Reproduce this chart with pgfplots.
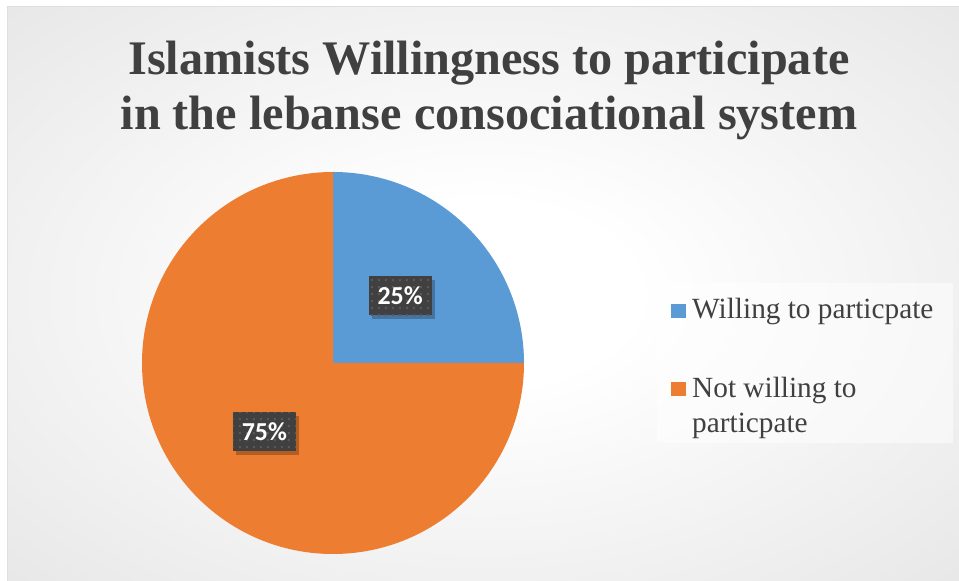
\documentclass[border=0pt]{standalone}
\usepackage{pgfplots}
\pgfplotsset{compat=1.18}
\usepackage{pgfplotstable}
\usepackage{fontspec}
\setmainfont{Liberation Serif}
\newfontfamily\labelfont{Carlito}
\usetikzlibrary{patterns.meta,shadows}

\definecolor{pieblue}{RGB}{91,155,213}
\definecolor{pieorange}{RGB}{237,125,49}
\definecolor{textgray}{RGB}{64,64,64}
\definecolor{labelbg}{RGB}{64,64,64}
\definecolor{labeldot}{RGB}{88,88,88}

\pgfdeclareradialshading{chartbg}{\pgfpoint{0bp}{0bp}}{%
  color(0bp)=(white); color(8bp)=(white); color(71bp)=(gray!42)}

\tikzdeclarepattern{
  name=labeldots, type=uncolored,
  bottom left={(0bp,0bp)}, top right={(6.6bp,6.6bp)},
  tile size={(6.6bp,6.6bp)},
  code={\fill (1bp,1bp) rectangle (3bp,3bp);}
}

% share of each answer, in percent
\pgfplotstableread{
answer value
willing 25
notwilling 75
}\piedata
\pgfplotstablegetelem{0}{value}\of\piedata \let\valA\pgfplotsretval
\pgfplotstablegetelem{1}{value}\of\piedata \let\valB\pgfplotsretval
\pgfmathsetmacro{\aStart}{90}
\pgfmathsetmacro{\aEnd}{\aStart-3.6*\valA}
\pgfmathsetmacro{\bEnd}{\aEnd-3.6*\valB}
\pgfmathsetmacro{\aMid}{(\aStart+\aEnd)/2}
\pgfmathsetmacro{\bMid}{(\aEnd+\bEnd)/2}
\pgfmathtruncatemacro{\pctA}{\valA}
\pgfmathtruncatemacro{\pctB}{\valB}

\tikzset{
  pielabel/.style={fill=labelbg, text=white, minimum width=63bp, minimum height=39bp,
    inner sep=0pt, font=\labelfont\bfseries\fontsize{26}{30}\selectfont,
    postaction={pattern={labeldots}, pattern color=labeldot},
    drop shadow={shadow xshift=3bp, shadow yshift=-4bp, opacity=0.25, fill=black}}
}

\begin{document}
\begin{tikzpicture}[x=1bp,y=1bp]
  \path[use as bounding box] (0,0) rectangle (959,581);
  \shade[shading=chartbg] (7,0) rectangle (959,574);
  \draw[gray!25, line width=1bp] (7,0) -- (7,574) -- (959,574);
  \begin{axis}[
    x=1bp, y=1bp, at={(0,0)}, anchor=origin,
    xmin=0, xmax=959, ymin=0, ymax=581,
    hide axis, clip=false,
    legend style={at={(axis cs:671,283)}, anchor=north west,
      draw=none, fill=none, inner sep=0pt,
      cells={anchor=base west}, nodes={inner sep=0pt, text depth=},
      column sep=6bp, row sep=48bp,
      font=\fontsize{29.4}{35}\selectfont, text=textgray},
    legend image code/.code={\fill[#1, draw=none] (0bp,1bp) rectangle (15bp,15bp);},
  ]
    % legend panel
    \fill[white, opacity=0.5] (axis cs:657,138) rectangle (axis cs:953,298);

    % slices
    \fill[pieblue] (axis cs:333,218) -- ++(\aStart:191)
      arc[start angle=\aStart, end angle=\aEnd, radius=191] -- cycle;
    \fill[pieorange] (axis cs:333,218) -- ++(\aEnd:191)
      arc[start angle=\aEnd, end angle=\bEnd, radius=191] -- cycle;

    % value labels
    \node[pielabel] at ([shift={(\aMid:95)}]axis cs:333,218) {\pctA\%};
    \node[pielabel] at ([shift={(\bMid:97)}]axis cs:333,218) {\pctB\%};

    % title
    \node[anchor=base, font=\bfseries\fontsize{48.4}{55}\selectfont, text=textgray]
      at (axis cs:489,506) {Islamists Willingness to participate};
    \node[anchor=base, font=\bfseries\fontsize{48.4}{55}\selectfont, text=textgray]
      at (axis cs:489,451) {in the lebanse consociational system};

    \addlegendimage{fill=pieblue}
    \addlegendentry{Willing to particpate}
    \addlegendimage{fill=pieorange}
    \addlegendentry{{\begin{tabular}[t]{@{}l@{}}Not willing to\\particpate\end{tabular}}}
  \end{axis}
\end{tikzpicture}
\end{document}
